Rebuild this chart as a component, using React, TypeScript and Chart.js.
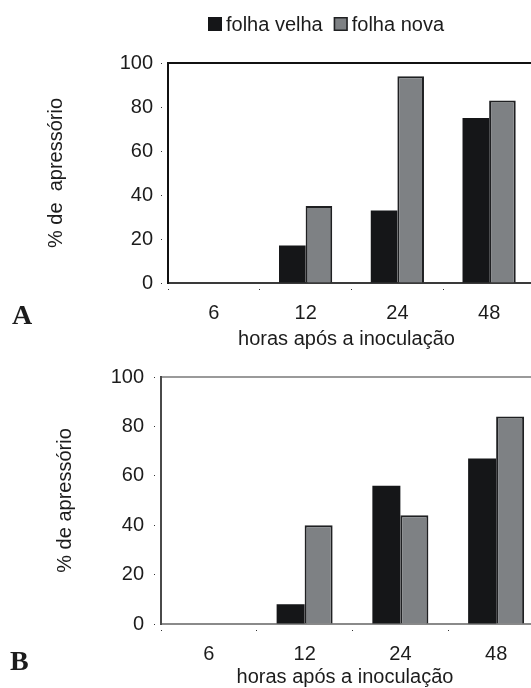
import React, { useEffect, useRef } from 'react';
import { Chart, registerables } from 'chart.js';

Chart.register(...registerables);

// ---- data ----
const categories = ['6', '12', '24', '48'];
const seriesNames = ['folha velha', 'folha nova'];
const panelAOld = [0, 17, 33, 75];
const panelANew = [0, 35, 94, 83];
const panelBOld = [0, 8, 56, 67];
const panelBNew = [0, 40, 44, 84];
const yTicks = [0, 20, 40, 60, 80, 100];
const xTitleText = 'horas após a inoculação';
const yTitleA = '% de  apressório';
const yTitleB = '% de apressório';

// ---- styles ----
const FONT = "'Liberation Sans', Arial, Helvetica, sans-serif";
const SERIF = "'Liberation Serif', 'Times New Roman', serif";
const TEXT = '#1c1c1c';
const BLACK = '#151618';
const GRAY = '#7e8184';
const EDGE = '#1f2022';

type PanelCfg = {
  old: number[];
  nw: number[];
  width: number;
  height: number;
  top: number;
  padTop: number;
  yWidth: number;
  xHeight: number;
  yTitle: string;
  yTitlePad: number;
  yTickPad: number;
  catPct: number;
  borders: { left: string; bottom: string; top: string };
  label: string;
  labelX: number;
  labelY: number;
  xTitleDx: number;
  xTitleDy: number;
  legend: boolean;
};

function extrasPlugin(cfg: PanelCfg) {
  return {
    id: 'extras',
    afterDraw(chart: any) {
      const { ctx, chartArea } = chart;
      ctx.save();
      // x axis title
      ctx.fillStyle = TEXT;
      ctx.font = `20px ${FONT}`;
      ctx.textAlign = 'center';
      ctx.textBaseline = 'alphabetic';
      ctx.fillText(
        xTitleText,
        (chartArea.left + chartArea.right) / 2 + cfg.xTitleDx,
        chartArea.bottom + cfg.xTitleDy
      );
      // panel letter
      ctx.font = `bold 28px ${SERIF}`;
      ctx.textAlign = 'left';
      ctx.fillText(cfg.label, cfg.labelX, cfg.labelY);
      // legend
      if (cfg.legend) {
        const size = 14;
        const boxTop = 17;
        let x = 208;
        ctx.font = `20px ${FONT}`;
        chart.data.datasets.forEach((ds: any, i: number) => {
          ctx.fillStyle = ds.backgroundColor;
          ctx.fillRect(x, boxTop, size, size);
          if (i === 1) {
            ctx.strokeStyle = EDGE;
            ctx.lineWidth = 1.5;
            ctx.strokeRect(x + 0.75, boxTop + 0.75, size - 1.5, size - 1.5);
          }
          x += size + 4;
          ctx.fillStyle = TEXT;
          ctx.fillText(ds.label, x, 31);
          x += ctx.measureText(ds.label).width + 11;
        });
      }
      ctx.restore();
    },
  };
}

function buildConfig(cfg: PanelCfg): any {
  const tickFont = { family: FONT, size: 20 };
  return {
    type: 'bar',
    data: {
      labels: categories,
      datasets: [
        {
          label: seriesNames[0],
          data: cfg.old,
          backgroundColor: BLACK,
          borderColor: BLACK,
          borderWidth: 0,
          categoryPercentage: cfg.catPct,
          barPercentage: 1,
        },
        {
          label: seriesNames[1],
          data: cfg.nw,
          backgroundColor: GRAY,
          borderColor: EDGE,
          borderWidth: 2,
          categoryPercentage: cfg.catPct,
          barPercentage: 1,
        },
      ],
    },
    options: {
      responsive: false,
      animation: false,
      layout: { padding: { top: cfg.padTop, left: 0, right: 0, bottom: 0 } },
      plugins: { legend: { display: false }, tooltip: { enabled: false } },
      scales: {
        x: {
          position: 'bottom',
          grid: {
            display: true,
            offset: true,
            drawOnChartArea: false,
            drawTicks: true,
            tickLength: 7,
            tickColor: '#333',
            tickWidth: 1,
            tickBorderDash: [1, 5],
            tickBorderDashOffset: 1,
          },
          border: { display: true, color: cfg.borders.bottom, width: 2 },
          ticks: { color: TEXT, font: tickFont, padding: 11, maxRotation: 0, autoSkip: false },
          afterFit: (s: any) => {
            s.height = cfg.xHeight;
          },
        },
        xTop: {
          type: 'category',
          position: 'top',
          display: true,
          grid: { display: false, drawTicks: false },
          ticks: { display: false },
          border: { display: true, color: cfg.borders.top, width: 2 },
          afterFit: (s: any) => {
            s.height = 0;
          },
        },
        y: {
          min: 0,
          max: 100,
          afterBuildTicks: (s: any) => {
            s.ticks = yTicks.map((v) => ({ value: v }));
          },
          ticks: { color: TEXT, font: tickFont, padding: cfg.yTickPad },
          grid: {
            drawOnChartArea: false,
            drawTicks: true,
            tickLength: 7,
            tickColor: '#333',
            tickWidth: 1,
            tickBorderDash: [1, 10],
          },
          border: { display: true, color: cfg.borders.left, width: 2 },
          title: {
            display: true,
            text: cfg.yTitle,
            color: TEXT,
            font: { family: FONT, size: 20 },
            padding: { top: cfg.yTitlePad, bottom: 0 },
          },
          afterFit: (s: any) => {
            s.width = cfg.yWidth;
          },
        },
      },
    },
    plugins: [extrasPlugin(cfg)],
  };
}

const panelA: PanelCfg = {
  old: panelAOld,
  nw: panelANew,
  width: 535,
  height: 355,
  top: 0,
  padTop: 63,
  yWidth: 168,
  xHeight: 72,
  yTitle: yTitleA,
  yTitlePad: 44,
  yTickPad: 8,
  catPct: 0.58,
  borders: { left: '#111111', bottom: '#3a3a3a', top: '#111111' },
  label: 'A',
  labelX: 12,
  labelY: 324,
  xTitleDx: -5,
  xTitleDy: 62,
  legend: true,
};

const panelB: PanelCfg = {
  old: panelBOld,
  nw: panelBNew,
  width: 544,
  height: 333,
  top: 355,
  padTop: 19,
  yWidth: 161,
  xHeight: 64,
  yTitle: yTitleB,
  yTitlePad: 53,
  yTickPad: 10,
  catPct: 0.585,
  borders: { left: '#4a4a4a', bottom: '#8a8a8a', top: '#9a9a9a' },
  label: 'B',
  labelX: 10,
  labelY: 315,
  xTitleDx: -7.5,
  xTitleDy: 59,
  legend: false,
};

function Panel({ cfg }: { cfg: PanelCfg }) {
  const ref = useRef<HTMLCanvasElement>(null);
  useEffect(() => {
    const chart = new Chart(ref.current as HTMLCanvasElement, buildConfig(cfg));
    return () => chart.destroy();
  }, [cfg]);
  return (
    <canvas
      ref={ref}
      width={cfg.width}
      height={cfg.height}
      style={{ position: 'absolute', left: 0, top: cfg.top, width: cfg.width, height: cfg.height }}
    />
  );
}

export default function App() {
  return (
    <div
      style={{
        position: 'absolute',
        left: 0,
        top: 0,
        width: 531,
        height: 688,
        overflow: 'hidden',
        background: '#ffffff',
      }}
    >
      <Panel cfg={panelA} />
      <Panel cfg={panelB} />
    </div>
  );
}
